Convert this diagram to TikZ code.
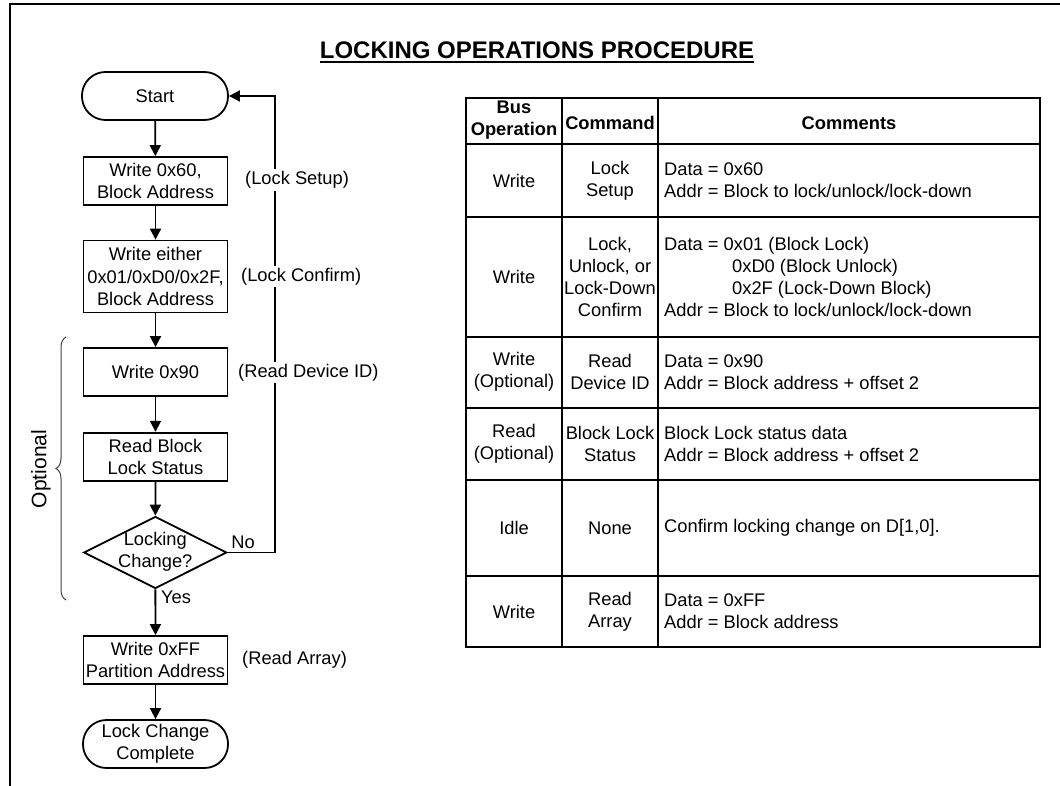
\documentclass[tikz,border=0pt]{standalone}
\usepackage{fontspec}
\setmainfont{Liberation Sans}
\usetikzlibrary{arrows.meta,shapes.geometric,decorations.pathreplacing}
\newcommand{\bodyfont}{\fontsize{18.3}{22.2}\selectfont}
\begin{document}
\begin{tikzpicture}[x=1pt,y=-1pt,
  every node/.style={font=\bodyfont},
  proc/.style={draw, line width=1.8pt, minimum width=144pt, minimum height=48pt, inner sep=0pt, align=center},
  term/.style={proc, rounded corners=23.5pt, minimum width=146pt},
  dec/.style={draw, diamond, line width=1.8pt, minimum width=143pt, minimum height=72pt, inner sep=0pt},
  conn/.style={line width=1.8pt, -{Triangle[length=11pt,width=11pt]}},
  note/.style={fill=white, inner sep=2pt, anchor=west},
  cell/.style={inner sep=0pt, align=center},
  ctext/.style={inner sep=0pt, align=left, anchor=west},
  grid/.style={line width=1.7pt}
]
\useasboundingbox (0,0) rectangle (1060,786);
\fill[white] (0,0) rectangle (1060,786);
% frame
\draw[line width=2pt] (10,786) -- (10,4) -- (1060,4);
% title
\node[inner sep=0pt, anchor=base, font=\bfseries\fontsize{24}{28}\selectfont] (title) at (537,58.5) {LOCKING OPERATIONS PROCEDURE};
\draw[line width=2pt] ([yshift=-3.5pt]title.base west) -- ([yshift=-3.5pt]title.base east);

% flowchart
\node[term] (start) at (155,96) {Start};
\node[proc] (b1) at (155.5,181) {Write 0x60,\\Block Address};
\node[proc, minimum height=72pt] (b2) at (155.5,276.5) {Write either\\0x01/0xD0/0x2F,\\Block Address};
\node[proc] (b3) at (155.5,372) {Write 0x90};
\node[proc] (b4) at (155.5,456.7) {Read Block\\Lock Status};
\node[dec] (dia) at (155.3,552.5) {};
\node[cell] (diatext) at (155.3,552) {Locking\\Change?};
\node[proc] (b5) at (155.5,660) {Write 0xFF\\Partition Address};
\node[term, minimum width=145pt] (stop) at (155.5,744) {Lock Change\\Complete};

\draw[conn] (start) -- (b1);
\draw[conn] (b1) -- (b2);
\draw[conn] (b2) -- (b3);
\draw[conn] (b3) -- (b4);
\draw[conn] (b4) -- (dia);
\draw[conn] (dia) -- (b5);
\draw[conn] (b5) -- (stop);

\coordinate (loop) at (275,0);
\draw[conn] (dia.east) -- (dia.east -| loop) |- (start.east);

\node[note] (n1) at (243,180) {(Lock Setup)};
\node[note] (n2) at (239,276.5) {(Lock Confirm)};
\node[note] (n3) at (236,372.5) {(Read Device ID)};
\node[note] (n4) at (240,660) {(Read Array)};
\node[inner sep=1pt] (no) at (243,542) {No};
\node[inner sep=1pt] (yes) at (176,597) {Yes};

% brace
\draw[decorate, decoration={brace, amplitude=10pt}, line width=1pt, black!75] (66,600) -- (66,337);
\node[rotate=90, inner sep=0pt, font=\fontsize{21}{25}\selectfont] (opt) at (41,469) {Optional};

% table
\draw[grid] (466,98) rectangle (1040,647);
\draw[grid] (562,98) -- (562,647);
\draw[grid] (658,98) -- (658,647);
\foreach \yy in {144,217,337,408,480,576} {\draw[grid] (466,\yy) -- (1040,\yy);}

\node[cell, font=\bfseries\bodyfont] (h1) at (514,120) {Bus\\Operation};
\node[cell, font=\bfseries\bodyfont] (h2) at (610,123) {Command};
\node[cell, font=\bfseries\bodyfont] (h3) at (849,123) {Comments};

\node[cell] (r1a) at (514,180.5) {Write};
\node[cell] (r1b) at (610,180.5) {Lock\\Setup};
\node[ctext] (r1c) at (664,180.5) {Data = 0x60\\Addr = Block to lock/unlock/lock-down};

\node[cell] (r2a) at (514,277) {Write};
\node[cell] (r2b) at (610,277) {Lock,\\Unlock, or\\Lock-Down\\Confirm};
\node[ctext] (r2c) at (664,277) {Data = 0x01 (Block Lock)\\\hspace*{68pt}0xD0 (Block Unlock)\\\hspace*{68pt}0x2F (Lock-Down Block)\\Addr = Block to lock/unlock/lock-down};

\node[cell] (r3a) at (514,372) {Write\\(Optional)};
\node[cell] (r3b) at (610,372) {Read\\Device ID};
\node[ctext] (r3c) at (664,372) {Data = 0x90\\Addr = Block address + offset 2};

\node[cell] (r4a) at (514,444) {Read\\(Optional)};
\node[cell] (r4b) at (610,444) {Block Lock\\Status};
\node[ctext] (r4c) at (664,444) {Block Lock status data\\Addr = Block address + offset 2};

\node[cell] (r5a) at (514,528) {Idle};
\node[cell] (r5b) at (610,528) {None};
\node[ctext] (r5c) at (664,528) {Confirm locking change on D[1,0].};

\node[cell] (r6a) at (514,611.5) {Write};
\node[cell] (r6b) at (610,611.5) {Read\\Array};
\node[ctext] (r6c) at (664,611.5) {Data = 0xFF\\Addr = Block address};
\end{tikzpicture}
\end{document}
